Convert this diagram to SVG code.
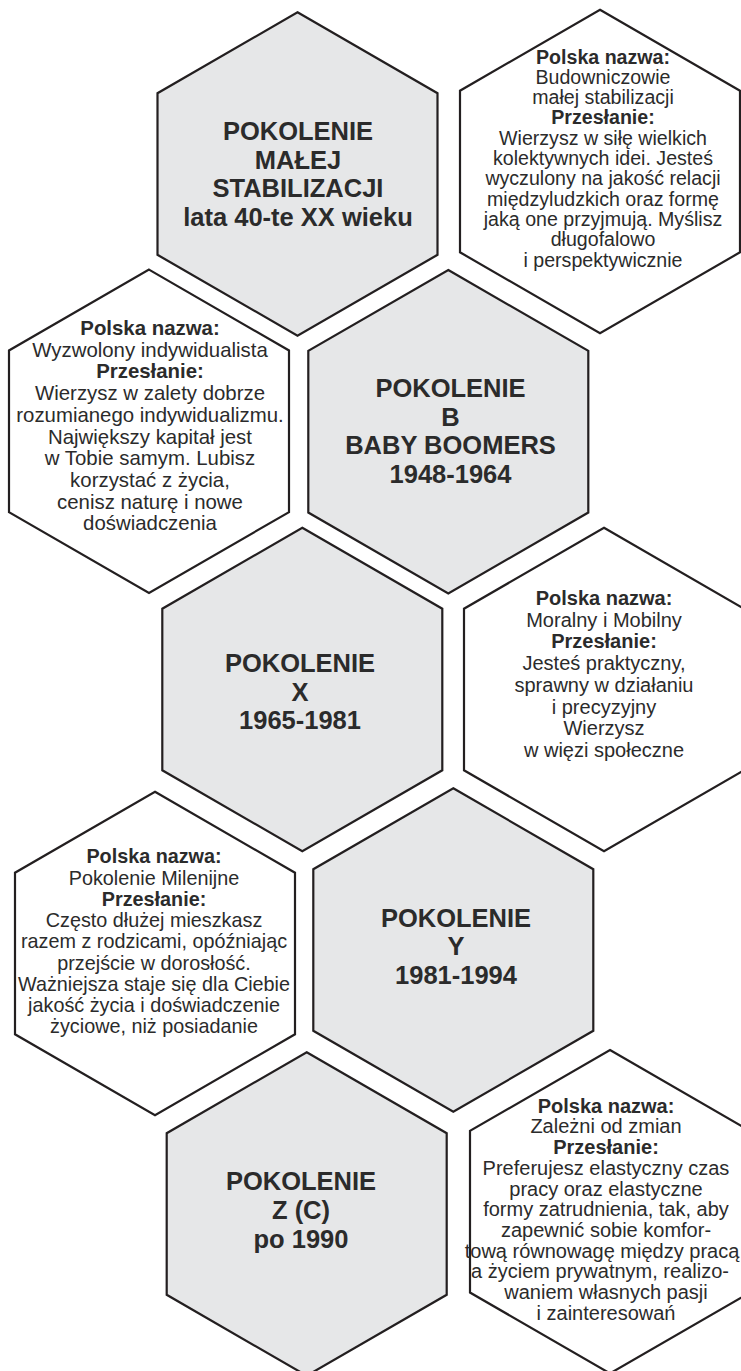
<svg xmlns="http://www.w3.org/2000/svg" width="741" height="1371" viewBox="0 0 741 1371">
<defs>
<style>
.hex{stroke:#231f20;stroke-width:2.2;stroke-linejoin:miter}
.g{fill:#e6e7e8}
.w{fill:#ffffff}
.t{font-family:"Liberation Sans",Arial,sans-serif;font-weight:bold;font-size:25.5px;fill:#2b2b2b;text-anchor:middle}
.d{font-family:"Liberation Sans",Arial,sans-serif;font-size:20px;fill:#2b2b2b;text-anchor:middle}
.d .b{font-weight:bold}
</style>
<path id="hx" d="M0,-161.7 L140,-80.8 L140,80.8 L0,161.7 L-140,80.8 L-140,-80.8 Z"/>
</defs>
<rect width="741" height="1371" fill="#ffffff"/>
<g id="connectors"></g>

<g id="node-pokolenie-malej">
<use href="#hx" class="hex g" transform="translate(297.5,174)"/>
<text class="t" x="298"><tspan x="298" y="140">POKOLENIE</tspan><tspan x="298" y="168.5">MAŁEJ</tspan><tspan x="298" y="197">STABILIZACJI</tspan><tspan x="298" y="225.5">lata 40-te XX wieku</tspan></text>
</g>

<g id="node-opis-malej">
<use href="#hx" class="hex w" transform="translate(600,171.5)"/>
<text class="d" style="font-size:19.6px"><tspan class="b" x="603" y="63.5">Polska nazwa:</tspan><tspan x="603" y="83.8">Budowniczowie</tspan><tspan x="603" y="104.1">małej stabilizacji</tspan><tspan class="b" x="603" y="124.4">Przesłanie:</tspan><tspan x="603" y="144.7">Wierzysz w siłę wielkich</tspan><tspan x="603" y="165">kolektywnych idei. Jesteś</tspan><tspan x="603" y="185.3">wyczulony na jakość relacji</tspan><tspan x="603" y="205.6">międzyludzkich oraz formę</tspan><tspan x="603" y="225.9">jaką one przyjmują. Myślisz</tspan><tspan x="603" y="246.2">długofalowo</tspan><tspan x="603" y="266.5">i perspektywicznie</tspan></text>
</g>

<g id="node-opis-b">
<use href="#hx" class="hex w" transform="translate(149,431.3)"/>
<text class="d" style="font-size:20.4px"><tspan class="b" x="150" y="335">Polska nazwa:</tspan><tspan x="150" y="356.7">Wyzwolony indywidualista</tspan><tspan class="b" x="150" y="378.4">Przesłanie:</tspan><tspan x="150" y="400.1">Wierzysz w zalety dobrze</tspan><tspan x="150" y="421.8">rozumianego indywidualizmu.</tspan><tspan x="150" y="443.5">Największy kapitał jest</tspan><tspan x="150" y="465.2">w Tobie samym. Lubisz</tspan><tspan x="150" y="486.9">korzystać z życia,</tspan><tspan x="150" y="508.6">cenisz naturę i nowe</tspan><tspan x="150" y="530.3">doświadczenia</tspan></text>
</g>

<g id="node-pokolenie-b">
<use href="#hx" class="hex g" transform="translate(448.3,431.7)"/>
<text class="t"><tspan x="450.5" y="397.3">POKOLENIE</tspan><tspan x="450.5" y="425.8">B</tspan><tspan x="450.5" y="454.3">BABY BOOMERS</tspan><tspan x="450.5" y="483">1948-1964</tspan></text>
</g>

<g id="node-pokolenie-x">
<use href="#hx" class="hex g" transform="translate(302.3,689.5)"/>
<text class="t"><tspan x="300" y="671.7">POKOLENIE</tspan><tspan x="300" y="700.5">X</tspan><tspan x="300" y="729.3">1965-1981</tspan></text>
</g>

<g id="node-opis-x">
<use href="#hx" class="hex w" transform="translate(604,689.5)"/>
<text class="d"><tspan class="b" x="604" y="605">Polska nazwa:</tspan><tspan x="604" y="626.7">Moralny i Mobilny</tspan><tspan class="b" x="604" y="648.4">Przesłanie:</tspan><tspan x="604" y="670.1">Jesteś praktyczny,</tspan><tspan x="604" y="691.8">sprawny w działaniu</tspan><tspan x="604" y="713.5">i precyzyjny</tspan><tspan x="604" y="735.2">Wierzysz</tspan><tspan x="604" y="756.9">w więzi społeczne</tspan></text>
</g>

<g id="node-opis-y">
<use href="#hx" class="hex w" transform="translate(155,953.5)"/>
<text class="d" style="font-size:19.8px"><tspan class="b" x="154" y="863.3">Polska nazwa:</tspan><tspan x="154" y="884.5">Pokolenie Milenijne</tspan><tspan class="b" x="154" y="905.8">Przesłanie:</tspan><tspan x="154" y="927">Często dłużej mieszkasz</tspan><tspan x="154" y="948.3">razem z rodzicami, opóźniając</tspan><tspan x="154" y="969.5">przejście w dorosłość.</tspan><tspan x="154" y="990.8">Ważniejsza staje się dla Ciebie</tspan><tspan x="154" y="1012">jakość życia i doświadczenie</tspan><tspan x="154" y="1033.3">życiowe, niż posiadanie</tspan></text>
</g>

<g id="node-pokolenie-y">
<use href="#hx" class="hex g" transform="translate(453.3,950)"/>
<text class="t"><tspan x="456" y="926.7">POKOLENIE</tspan><tspan x="456" y="955.3">Y</tspan><tspan x="456" y="984">1981-1994</tspan></text>
</g>

<g id="node-pokolenie-z">
<use href="#hx" class="hex g" transform="translate(306.7,1214)"/>
<text class="t"><tspan x="301" y="1190">POKOLENIE</tspan><tspan x="301" y="1219.3">Z (C)</tspan><tspan x="301" y="1248.3">po 1990</tspan></text>
</g>

<g id="node-opis-z">
<use href="#hx" class="hex w" transform="translate(610,1211.7)"/>
<text class="d"><tspan class="b" x="606" y="1112.7">Polska nazwa:</tspan><tspan x="606" y="1133.4">Zależni od zmian</tspan><tspan class="b" x="606" y="1154.1">Przesłanie:</tspan><tspan x="606" y="1174.8">Preferujesz elastyczny czas</tspan><tspan x="606" y="1195.5">pracy oraz elastyczne</tspan><tspan x="606" y="1216.2">formy zatrudnienia, tak, aby</tspan><tspan x="606" y="1236.9">zapewnić sobie komfor-</tspan><tspan x="602" y="1257.6">tową równowagę między pracą</tspan><tspan x="600" y="1278.3">a życiem prywatnym, realizo-</tspan><tspan x="606" y="1299">waniem własnych pasji</tspan><tspan x="606" y="1319.7">i zainteresowań</tspan></text>
</g>
</svg>
